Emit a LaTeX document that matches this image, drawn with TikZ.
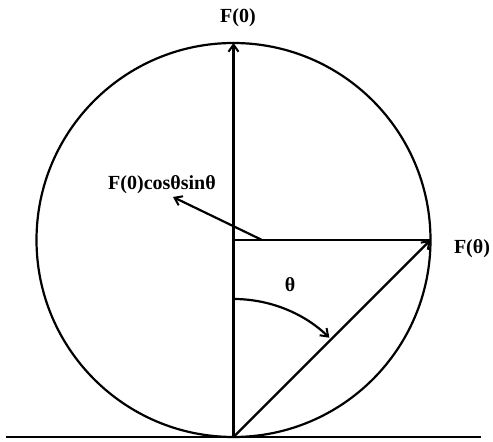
\documentclass[tikz,border=0pt]{standalone}
\usepackage{fontspec}
\setmainfont{Liberation Serif}
\usetikzlibrary{arrows.meta, positioning}

\begin{document}
\begin{tikzpicture}[
  x=1pt, y=1pt,
  every node/.style={font=\fontsize{20}{24}\selectfont\bfseries, inner sep=0pt},
  thickline/.style={line width=2.2pt},
  vecarrow/.style={thickline, -{Straight Barb[length=7pt, width=10pt, line width=2pt]}},
]
\useasboundingbox (0,0) rectangle (493,442);

% points on the wheel
\coordinate (B) at (233.5,5);
\coordinate (C) at (233.5,202);
\coordinate (T) at (233.5,399);
\coordinate (R) at (430.5,202);
\coordinate (P) at (262,202);
\coordinate (tip) at (173,245);

% ground and wheel
\draw[thickline] (6,5) coordinate (gl) -- (481,5) coordinate (gr);
\draw[thickline] (C) circle (197);

% forces
\draw[vecarrow] (B) -- (T);
\draw[thickline] (C) -- (R);
\draw[vecarrow] (B) -- (R);
\draw[vecarrow] (P) -- (tip);

% angle
\draw[vecarrow] (233.5,143) arc[start angle=90, end angle=46, radius=138];

% labels
\node (ftop) at (238,424) {F(0)};
\node (fth) at (472,193) {F(θ)};
\node (fcs) at (162,257) {F(0)cosθsinθ};
\node (th) at (290,157) {θ};
\end{tikzpicture}
\end{document}
